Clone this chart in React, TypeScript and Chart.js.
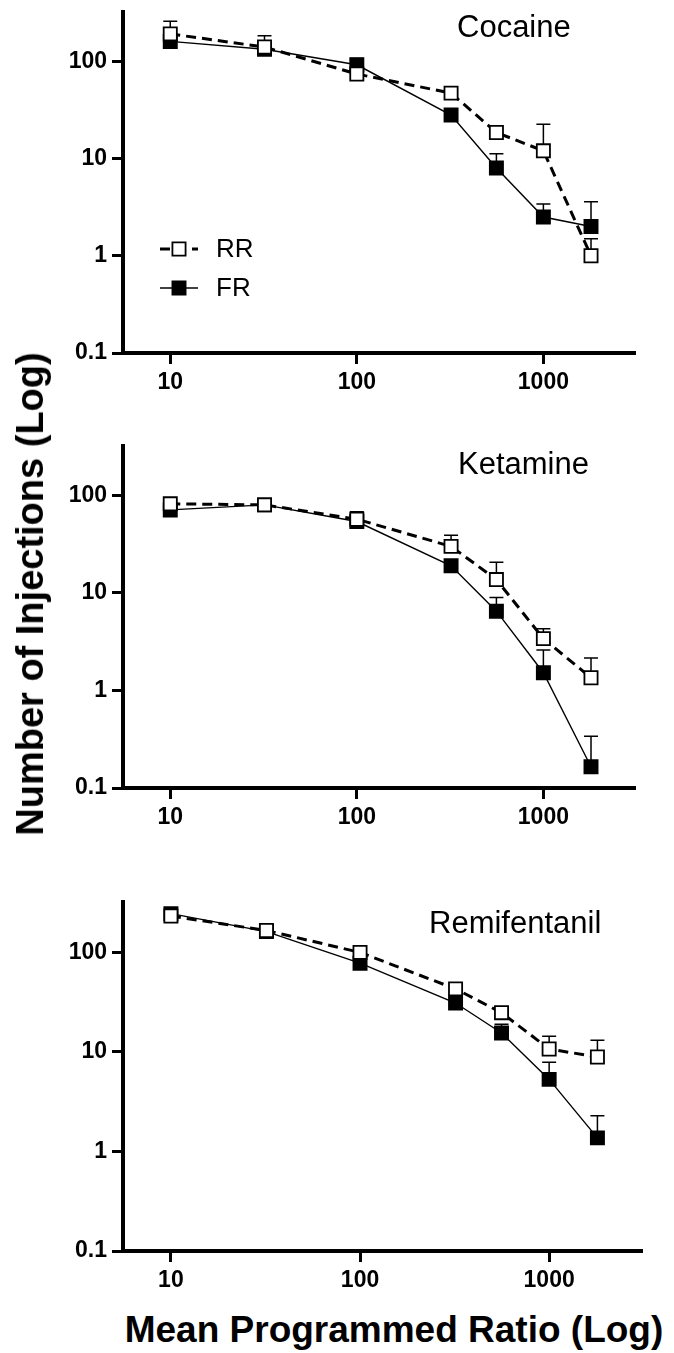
import React, { useEffect, useRef } from 'react';
import { Chart, registerables } from 'chart.js';

Chart.register(...registerables);

// ---------- data ----------
const ratios = [10, 32, 100, 320, 560, 1000, 1800];
const xTickValues = [10, 100, 1000];
const xTickLabels = ['10', '100', '1000'];
const yTickValues = [0.1, 1, 10, 100];
const yTickLabels = ['0.1', '1', '10', '100'];
const xMin = 5.58;
const xMax = 3060;
const yMin = 0.1;
const yMax = 321;

const seriesNames = ['RR', 'FR'];
const drugNames = ['Cocaine', 'Ketamine', 'Remifentanil'];

const cocaineRR = [191, 140, 74, 47, 18.5, 12, 1.0];
const cocaineRRErr = [258, 183, null, null, null, 22.5, 1.5];
const cocaineFR = [160, 133, 92, 28, 8.0, 2.5, 2.0];
const cocaineFRErr = [null, null, 107, null, 11.2, 3.4, 3.6];

const ketamineRR = [82, 80, 57, 30, 13.7, 3.4, 1.35];
const ketamineRRErr = [null, null, 68, 39, 20.6, 4.3, 2.15];
const ketamineFR = [71, 80, 54, 19, 6.5, 1.52, 0.165];
const ketamineFRErr = [null, null, null, null, 9.0, 2.6, 0.34];

const remiRR = [232, 166, 100, 43, 24.8, 10.7, 8.9];
const remiRRErr = [null, null, null, null, null, 14.4, 13.1];
const remiFR = [245, 162, 78, 31, 15.5, 5.3, 1.37];
const remiFRErr = [null, null, null, null, 19, 7.9, 2.28];

const yAxisTitle = 'Number of Injections (Log)';
const xAxisTitle = 'Mean Programmed Ratio (Log)';

// ---------- layout / style ----------
const FONT = '"Liberation Sans", Arial, Helvetica, sans-serif';
const W = 674;

type PanelCfg = {
  name: string;
  rr: number[];
  rrErr: (number | null)[];
  fr: number[];
  frErr: (number | null)[];
  top: number;
  height: number;
  area: { left: number; right: number; top: number; bottom: number };
  titleX: number;
  titleY: number;
  legend: boolean;
};

const panels: PanelCfg[] = [
  {
    name: drugNames[0], rr: cocaineRR, rrErr: cocaineRRErr, fr: cocaineFR, frErr: cocaineFRErr,
    top: 0, height: 410, area: { left: 123, right: 634, top: 12, bottom: 353 },
    titleX: 457, titleY: 37, legend: true,
  },
  {
    name: drugNames[1], rr: ketamineRR, rrErr: ketamineRRErr, fr: ketamineFR, frErr: ketamineFRErr,
    top: 425, height: 420, area: { left: 123, right: 634, top: 446, bottom: 788 },
    titleX: 458, titleY: 474, legend: false,
  },
  {
    name: drugNames[2], rr: remiRR, rrErr: remiRRErr, fr: remiFR, frErr: remiFRErr,
    top: 880, height: 428, area: { left: 123, right: 641, top: 902, bottom: 1251 },
    titleX: 429, titleY: 933, legend: false,
  },
];

const rrStyle = { dash: [10, 6], width: 3, fill: '#ffffff' };
const frStyle = { dash: [] as number[], width: 1.4, fill: '#000000' };
const POINT_R = 9.3;

function Panel({ cfg }: { cfg: PanelCfg }) {
  const ref = useRef<HTMLCanvasElement | null>(null);

  useEffect(() => {
    if (!ref.current) return;
    const areaTop = cfg.area.top - cfg.top;
    const areaBottom = cfg.area.bottom - cfg.top;

    const errorBars = {
      id: 'errorBars',
      beforeDatasetsDraw(chart: any) {
        const ctx = chart.ctx;
        const xs = chart.scales.x;
        const ys = chart.scales.y;
        ctx.save();
        ctx.strokeStyle = '#000';
        ctx.lineWidth = 1.5;
        ctx.setLineDash([]);
        chart.data.datasets.forEach((ds: any) => {
          const errs = ds.errHi as (number | null)[];
          if (!errs) return;
          ds.data.forEach((pt: any, i: number) => {
            const e = errs[i];
            if (e == null) return;
            const px = xs.getPixelForValue(pt.x);
            const y0 = ys.getPixelForValue(pt.y);
            const y1 = ys.getPixelForValue(e);
            ctx.beginPath();
            ctx.moveTo(px, y0);
            ctx.lineTo(px, y1);
            ctx.moveTo(px - 7, y1);
            ctx.lineTo(px + 7, y1);
            ctx.stroke();
          });
        });
        ctx.restore();
      },
    };

    const titlePlugin = {
      id: 'panelTitle',
      afterDraw(chart: any) {
        const ctx = chart.ctx;
        ctx.save();
        ctx.fillStyle = '#000';
        ctx.font = `31px ${FONT}`;
        ctx.textBaseline = 'alphabetic';
        ctx.textAlign = 'left';
        ctx.fillText(cfg.name, cfg.titleX, cfg.titleY - cfg.top);

        if (cfg.legend) {
          const rows = [
            { label: seriesNames[0], y: 249, st: rrStyle },
            { label: seriesNames[1], y: 288, st: frStyle },
          ];
          rows.forEach((r) => {
            ctx.beginPath();
            ctx.strokeStyle = '#000';
            ctx.lineWidth = r.st.width;
            ctx.setLineDash(r.st.dash);
            ctx.moveTo(160, r.y);
            ctx.lineTo(198, r.y);
            ctx.stroke();
            ctx.setLineDash([]);
            const s = POINT_R * Math.SQRT1_2;
            ctx.beginPath();
            ctx.rect(179 - s, r.y - s, 2 * s, 2 * s);
            ctx.fillStyle = r.st.fill;
            ctx.fill();
            ctx.lineWidth = 1.8;
            ctx.strokeStyle = '#000';
            ctx.stroke();
            ctx.fillStyle = '#000';
            ctx.font = `26px ${FONT}`;
            ctx.textBaseline = 'middle';
            ctx.fillText(r.label, 216, r.y + 1);
          });
        }
        ctx.restore();
      },
    };

    const mk = (vals: number[]) => ratios.map((x, i) => ({ x, y: vals[i] }));

    const chart = new Chart(ref.current, {
      type: 'line',
      data: {
        datasets: [
          {
            label: seriesNames[0],
            data: mk(cfg.rr),
            errHi: cfg.rrErr,
            borderColor: '#000',
            borderWidth: rrStyle.width,
            borderDash: rrStyle.dash,
            pointStyle: 'rect',
            pointRadius: POINT_R,
            pointBackgroundColor: rrStyle.fill,
            pointBorderColor: '#000',
            pointBorderWidth: 1.8,
            fill: false,
            tension: 0,
          } as any,
          {
            label: seriesNames[1],
            data: mk(cfg.fr),
            errHi: cfg.frErr,
            borderColor: '#000',
            borderWidth: frStyle.width,
            pointStyle: 'rect',
            pointRadius: POINT_R,
            pointBackgroundColor: frStyle.fill,
            pointBorderColor: '#000',
            pointBorderWidth: 1.8,
            fill: false,
            tension: 0,
          } as any,
        ],
      },
      options: {
        animation: false,
        responsive: false,
        maintainAspectRatio: false,
        devicePixelRatio: 1,
        events: [],
        layout: {
          padding: { left: 0, right: W - cfg.area.right, top: areaTop, bottom: 0 },
        },
        plugins: {
          legend: { display: false },
          tooltip: { enabled: false },
          title: { display: false },
        },
        scales: {
          x: {
            type: 'logarithmic',
            min: xMin,
            max: xMax,
            bounds: 'data',
            afterBuildTicks: (s: any) => {
              s.ticks = xTickValues.map((value) => ({ value }));
            },
            afterFit: (s: any) => {
              s.height = cfg.height - areaBottom;
              s.paddingLeft = 0;
              s.paddingRight = 0;
            },
            ticks: {
              autoSkip: false,
              maxRotation: 0,
              color: '#000',
              padding: 5,
              font: { family: FONT, size: 23, weight: 'bold' },
              callback: (_v: any, i: number) => xTickLabels[i],
            },
            grid: {
              drawOnChartArea: false,
              drawTicks: true,
              tickLength: 11,
              lineWidth: 3,
              color: '#000',
            },
            border: { display: true, width: 4, color: '#000' },
          } as any,
          y: {
            type: 'logarithmic',
            min: yMin,
            max: yMax,
            bounds: 'data',
            afterBuildTicks: (s: any) => {
              s.ticks = yTickValues.map((value) => ({ value }));
            },
            afterFit: (s: any) => {
              s.width = cfg.area.left;
              s.paddingTop = 0;
              s.paddingBottom = 0;
            },
            ticks: {
              autoSkip: false,
              color: '#000',
              padding: 5,
              font: { family: FONT, size: 23, weight: 'bold' },
              callback: (_v: any, i: number) => yTickLabels[i],
            },
            grid: {
              drawOnChartArea: false,
              drawTicks: true,
              tickLength: 11,
              lineWidth: 3,
              color: '#000',
            },
            border: { display: true, width: 4, color: '#000' },
          } as any,
        },
      },
      plugins: [errorBars, titlePlugin],
    } as any);

    return () => chart.destroy();
  }, [cfg]);

  return (
    <canvas
      ref={ref}
      width={W}
      height={cfg.height}
      style={{ position: 'absolute', left: 0, top: cfg.top, width: W, height: cfg.height }}
    />
  );
}

export default function App() {
  return (
    <div style={{ position: 'absolute', left: 0, top: 0, width: W, height: 1353, background: '#fff', overflow: 'hidden' }}>
      {panels.map((p) => (
        <Panel key={p.name} cfg={p} />
      ))}
      <div
        style={{
          position: 'absolute',
          left: 30,
          top: 594,
          transform: 'translate(-50%, -50%) rotate(-90deg)',
          font: `bold 38px ${FONT}`,
          lineHeight: '38px',
          whiteSpace: 'nowrap',
          color: '#000',
        }}
      >
        {yAxisTitle}
      </div>
      <div
        style={{
          position: 'absolute',
          left: 394,
          top: 1311,
          transform: 'translateX(-50%)',
          font: `bold 37px ${FONT}`,
          lineHeight: '37px',
          whiteSpace: 'nowrap',
          color: '#000',
        }}
      >
        {xAxisTitle}
      </div>
    </div>
  );
}
